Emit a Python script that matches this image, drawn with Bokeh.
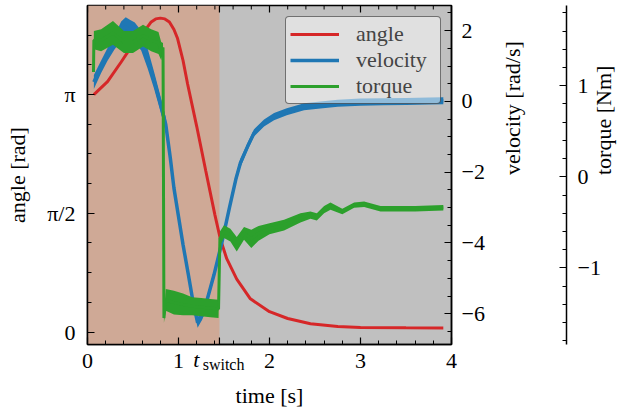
import numpy as np
from bokeh.plotting import figure
from bokeh.models import Range1d, LinearAxis, FixedTicker, BoxAnnotation, Legend, LegendItem
from bokeh.embed import file_html
from bokeh.resources import INLINE

# ---------------- data ----------------
angle_t = [0.07, 0.22, 0.37, 0.48, 0.59, 0.70, 0.75, 0.80, 0.85, 0.90, 0.95, 0.99, 1.05,
           1.10, 1.20, 1.30, 1.40, 1.46, 1.53, 1.64, 1.79, 2.00, 2.20, 2.45, 2.75, 3.00,
           3.50, 3.91]
angle_rad = [3.14, 3.31, 3.57, 3.77, 3.92, 4.10, 4.14, 4.15, 4.14, 4.10, 4.00, 3.88, 3.59,
             3.28, 2.72, 2.13, 1.55, 1.23, 0.97, 0.70, 0.44, 0.27, 0.18, 0.11, 0.075, 0.062,
             0.056, 0.055]

vel_t = [0.07, 0.15, 0.22, 0.30, 0.37, 0.42, 0.47, 0.52, 0.59, 0.66, 0.73, 0.80, 0.86,
         0.91, 0.95, 1.00, 1.05, 1.11, 1.16, 1.21, 1.26, 1.31, 1.39, 1.48, 1.56, 1.63,
         1.68, 1.76, 1.83, 1.94, 2.05, 2.19, 2.38, 2.56, 2.75, 3.00, 3.25, 3.50, 3.75, 3.91]
velocity = [0.55, 0.98, 1.33, 1.68, 1.98, 2.10, 2.00, 1.95, 1.72, 1.22, 0.61, -0.05,
            -0.65, -1.60, -2.45, -3.25, -4.05, -4.92, -5.67, -6.25, -6.05, -5.65, -4.90,
            -3.95, -3.00, -2.20, -1.74, -1.27, -0.89, -0.61, -0.43, -0.29, -0.15, -0.10,
            -0.05, -0.02, -0.01, 0.00, 0.01, 0.02]
vel_spread = [0.20, 0.18, 0.18, 0.20, 0.28, 0.28, 0.30, 0.28, 0.28, 0.28, 0.24, 0.22,
              0.20, 0.20, 0.15, 0.12, 0.12, 0.12, 0.12, 0.15, 0.12, 0.12, 0.12, 0.12,
              0.12, 0.12, 0.12, 0.10, 0.10, 0.10, 0.10, 0.10, 0.10, 0.10, 0.10, 0.10,
              0.10, 0.10, 0.10, 0.10]

torque_t = [0.066, 0.07, 0.15, 0.28, 0.40, 0.50, 0.61, 0.70, 0.78, 0.81, 0.83, 0.84,
            0.86, 0.95, 1.05, 1.15, 1.25, 1.35, 1.44, 1.455, 1.50, 1.57, 1.64, 1.72,
            1.80, 1.88, 2.00, 2.16, 2.34, 2.45, 2.52, 2.60, 2.67, 2.80, 2.93, 3.04,
            3.22, 3.40, 3.60, 3.91]
torque = [1.15, 1.50, 1.50, 1.58, 1.48, 1.48, 1.55, 1.50, 1.47, 1.38, 1.42, -1.55,
          -1.35, -1.38, -1.40, -1.42, -1.43, -1.44, -1.45, -0.68, -0.60, -0.64, -0.74,
          -0.62, -0.68, -0.62, -0.57, -0.53, -0.45, -0.42, -0.44, -0.36, -0.32, -0.38,
          -0.31, -0.30, -0.35, -0.35, -0.35, -0.34]
torque_spread = [0.0, 0.10, 0.12, 0.13, 0.12, 0.12, 0.12, 0.12, 0.12, 0.10, 0.05, 0.05,
                 0.12, 0.13, 0.12, 0.10, 0.10, 0.10, 0.10, 0.08, 0.07, 0.07, 0.08, 0.07,
                 0.10, 0.08, 0.06, 0.06, 0.05, 0.04, 0.04, 0.04, 0.04, 0.03, 0.03, 0.03,
                 0.03, 0.03, 0.03, 0.03]

t_switch = 1.45
x_ticks = [0, 1, 2, 3, 4]
x_tick_labels = ["0", "1", "2", "3", "4"]
switch_label = ["t", "switch"]
angle_ticks = [0.0, np.pi / 2, np.pi]
angle_tick_labels = ["0", "π/2", "π"]
vel_ticks = [2, 0, -2, -4, -6]
vel_tick_labels = ["2", "0", "−2", "−4", "−6"]
torque_ticks = [1, 0, -1]
torque_tick_labels = ["1", "0", "−1"]
series_names = ["angle", "velocity", "torque"]

# ---------------- styling ----------------
FONT = "Liberation Serif, Times New Roman, serif"
FS = "22px"
RED, BLUE, GREEN = "#d62728", "#1f77b4", "#2ca02c"
BROWN = "#cfa996"
GRAY = "#c0c0c0"
A_LO, A_HI = -0.164, 4.317

p = figure(width=631, height=410, output_backend="svg", toolbar_location=None,
           x_range=Range1d(0, 4), y_range=Range1d(A_LO, A_HI),
           min_border_left=87, min_border_right=180, min_border_top=5,
           min_border_bottom=64, background_fill_color=GRAY,
           border_fill_color="white")
p.extra_y_ranges = {"vel": Range1d(-6.87, 2.711), "tq": Range1d(-1.84, 1.881)}
p.grid.visible = False
p.outline_line_color = "black"
p.outline_line_width = 1.5

p.add_layout(BoxAnnotation(left=0, right=t_switch, fill_color=BROWN, fill_alpha=1.0,
                           line_color=None, level="underlay"))


def style_axis(ax):
    ax.axis_line_color = "black"
    ax.axis_line_width = 1.5
    ax.major_tick_in = 7
    ax.major_tick_out = 0
    ax.minor_tick_in = 4
    ax.minor_tick_out = 0
    ax.major_tick_line_color = "black"
    ax.major_tick_line_width = 1.2
    ax.minor_tick_line_color = "black"
    ax.minor_tick_line_width = 1.0
    ax.major_label_text_font = FONT
    ax.major_label_text_font_size = FS
    ax.major_label_text_color = "black"
    ax.axis_label_text_font = FONT
    ax.axis_label_text_font_size = FS
    ax.axis_label_text_font_style = "normal"
    ax.axis_label_text_color = "black"


def bare_axis(ax):
    ax.axis_line_color = None
    ax.major_tick_line_color = None
    ax.minor_tick_line_color = None
    ax.major_tick_in = 0
    ax.major_tick_out = 0
    ax.minor_tick_in = 0
    ax.minor_tick_out = 0


x_minor = [round(0.2 * k, 2) for k in range(21)]

# bottom axis: numbers
xa = p.xaxis[0]
style_axis(xa)
xa.ticker = FixedTicker(ticks=x_ticks, minor_ticks=x_minor)
xa.major_label_overrides = {float(t): lab for t, lab in zip(x_ticks, x_tick_labels)}
xa.major_label_standoff = 9

# second bottom axis: italic "t" pulled up into the tick-label row
xt = LinearAxis(ticker=FixedTicker(ticks=[1.197], minor_ticks=[]))
style_axis(xt)
bare_axis(xt)
xt.major_label_overrides = {1.197: switch_label[0]}
xt.major_label_text_font_style = "italic"
xt.major_label_standoff = -24
p.add_layout(xt, "below")

# third bottom axis: subscript "switch" + axis title
xs = LinearAxis(ticker=FixedTicker(ticks=[1.495], minor_ticks=[]))
style_axis(xs)
bare_axis(xs)
xs.major_label_overrides = {1.495: switch_label[1]}
xs.major_label_text_font_size = "16px"
xs.major_label_standoff = -19
xs.axis_label = "time [s]"
xs.axis_label_standoff = 7
p.add_layout(xs, "below")

# t_switch major tick and top mirrored ticks (inside the frame)
top_major = x_ticks + [t_switch]
p.segment(x0=top_major, x1=top_major, y0=[A_HI] * len(top_major),
          y1=[A_HI - 7 / 76.1] * len(top_major), line_color="black", line_width=1.2)
p.segment(x0=x_minor, x1=x_minor, y0=[A_HI] * len(x_minor),
          y1=[A_HI - 4 / 76.1] * len(x_minor), line_color="black", line_width=1.0)
p.segment(x0=[t_switch], x1=[t_switch], y0=[A_LO], y1=[A_LO + 7 / 76.1],
          line_color="black", line_width=1.2)

# left axis: angle
ya = p.yaxis[0]
style_axis(ya)
ya.ticker = FixedTicker(ticks=angle_ticks, minor_ticks=[k * np.pi / 8 for k in range(11)])
ya.major_label_overrides = {float(t): lab for t, lab in zip(angle_ticks, angle_tick_labels)}
ya.major_label_standoff = 12
ya.axis_label = "angle [rad]"
ya.axis_label_standoff = 14

# right axis: velocity
va = LinearAxis(y_range_name="vel",
                ticker=FixedTicker(ticks=vel_ticks,
                                   minor_ticks=[-6.5 + 0.5 * k for k in range(19)]))
style_axis(va)
va.major_label_overrides = {float(t): lab for t, lab in zip(vel_ticks, vel_tick_labels)}
va.major_label_standoff = 10
va.axis_label = "velocity [rad/s]"
va.axis_label_standoff = 25
p.add_layout(va, "right")

# blank spacer (a single white tick on white) so the torque spine sits further out
spacer = LinearAxis(y_range_name="vel", ticker=FixedTicker(ticks=[-6.5], minor_ticks=[]))
spacer.axis_line_color = None
spacer.minor_tick_line_color = None
spacer.minor_tick_in = 0
spacer.minor_tick_out = 0
spacer.major_tick_in = 0
spacer.major_tick_out = 26
spacer.major_tick_line_color = "white"
spacer.major_tick_line_width = 1
spacer.major_label_text_color = None
spacer.major_label_standoff = 0
p.add_layout(spacer, "right")

# offset right axis: torque
ta = LinearAxis(y_range_name="tq",
                ticker=FixedTicker(ticks=torque_ticks,
                                   minor_ticks=[round(-1.8 + 0.2 * k, 2) for k in range(19)]))
style_axis(ta)
ta.major_label_overrides = {float(t): lab for t, lab in zip(torque_ticks, torque_tick_labels)}
ta.major_label_standoff = 11
ta.axis_label = "torque [Nm]"
ta.axis_label_standoff = 0
p.add_layout(ta, "right")

for ax in (va, ta):
    try:
        ax.axis_label_orientation = np.pi / 2
    except Exception:
        pass

# ---------------- curves ----------------
r_a = p.line(angle_t, angle_rad, line_color=RED, line_width=3)

v_lo = [v - s for v, s in zip(velocity, vel_spread)]
v_hi = [v + s for v, s in zip(velocity, vel_spread)]
p.varea(x=vel_t, y1=v_lo, y2=v_hi, y_range_name="vel", fill_color=BLUE)
r_v = p.line(vel_t, velocity, line_color=BLUE, line_width=3.5, y_range_name="vel")

q_lo = [v - s for v, s in zip(torque, torque_spread)]
q_hi = [v + s for v, s in zip(torque, torque_spread)]
p.varea(x=torque_t, y1=q_lo, y2=q_hi, y_range_name="tq", fill_color=GREEN)
r_q = p.line(torque_t, torque, line_color=GREEN, line_width=3, y_range_name="tq")

legend = Legend(items=[LegendItem(label=n, renderers=[r]) for n, r in
                       zip(series_names, [r_a, r_v, r_q])],
                location=(198, 240), label_text_font=FONT, label_text_font_size=FS,
                glyph_width=49, glyph_height=20, label_height=20, label_width=80,
                label_standoff=17, padding=4, spacing=0, margin=0,
                background_fill_color="white", background_fill_alpha=0.5,
                border_line_color="black", border_line_width=1.2)
try:
    legend.border_radius = 4
except Exception:
    pass
p.add_layout(legend, "center")

open("out.html", "w").write(file_html(p, INLINE))
